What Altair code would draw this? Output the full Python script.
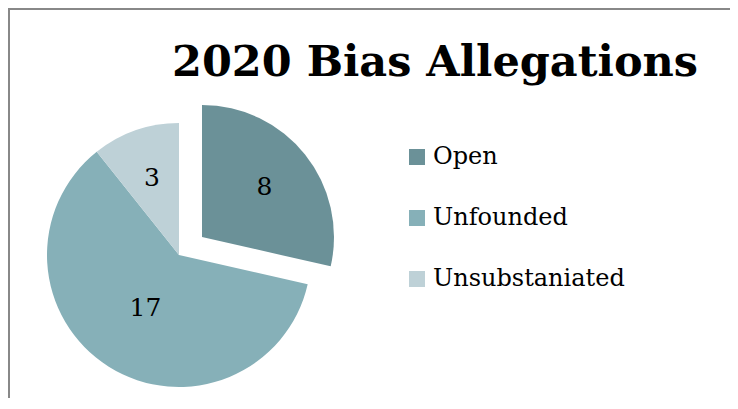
import altair as alt
import pandas as pd

categories = ["Open", "Unfounded", "Unsubstaniated"]
counts = [8, 17, 3]
colors = ["#6B9198", "#86B0B8", "#BED1D7"]

df = pd.DataFrame({"category": categories, "count": counts, "order": list(range(len(categories)))})
total = sum(counts)

FONT = "DejaVu Serif"
W, H = 722, 390
CX, CY = 171, 247          # pie centre (chart coords)
EX, EY = 194, 229          # centre of the pulled-out "Open" slice
R = 132

base = (
    alt.Chart(df)
    .transform_stack(stack="count", groupby=[], as_=["start", "end"], sort=[alt.SortField("order")])
    .transform_calculate(mid="(datum.start + datum.end) / 2")
)

color = alt.Color(
    "category:N",
    scale=alt.Scale(domain=categories, range=colors),
    legend=alt.Legend(
        title=None,
        orient="none",
        legendX=397,
        legendY=137,
        symbolType="square",
        symbolSize=256,
        symbolStrokeWidth=0,
        labelFont=FONT,
        labelFontSize=24,
        labelColor="#000000",
        labelOffset=4,
        labelLimit=0,
        rowPadding=37,
        padding=0,
    ),
)

tscale = alt.Scale(domain=[0, total], range=[0, 6.283185307179586], zero=True, nice=False)
theta = alt.Theta("start:Q", scale=tscale)
theta2 = alt.Theta2("end:Q")

open_arc = base.transform_filter(alt.datum.category == "Open").mark_arc(radius=R).encode(
    theta=theta, theta2=theta2, color=color, x=alt.value(EX), y=alt.value(EY)
)
rest_arc = base.transform_filter(alt.datum.category != "Open").mark_arc(radius=R).encode(
    theta=theta, theta2=theta2, color=color, x=alt.value(CX), y=alt.value(CY)
)

def label(filt, cx, cy, r):
    return base.transform_filter(filt).mark_text(
        font=FONT, fontSize=25, color="#000000", baseline="middle", align="center"
    ).encode(
        theta=alt.Theta("mid:Q", scale=tscale),
        radius=alt.value(r),
        text=alt.Text("count:Q"),
        x=alt.value(cx),
        y=alt.value(cy),
    )

lab_open = label(alt.datum.category == "Open", EX, EY, 80)
lab_unf = label(alt.datum.category == "Unfounded", CX, CY, 63)
lab_uns = label(alt.datum.category == "Unsubstaniated", CX, CY, 82)

border_top = alt.Chart(df).mark_rule(color="#888888", strokeWidth=2).encode(
    x=alt.value(0), x2=alt.value(W), y=alt.value(1)
)
border_left = alt.Chart(df).mark_rule(color="#888888", strokeWidth=2).encode(
    x=alt.value(1), y=alt.value(0), y2=alt.value(H)
)

chart = (
    alt.layer(border_top, border_left, open_arc, rest_arc, lab_open, lab_unf, lab_uns)
    .properties(
        width=W,
        height=H,
        padding=0,
        autosize=alt.AutoSizeParams(type="none"),
        title=alt.TitleParams(
            "2020 Bias Allegations",
            font=FONT,
            fontSize=43,
            fontWeight="bold",
            color="#000000",
            anchor="start",
            frame="group",
            orient="top",
            baseline="alphabetic",
            offset=0,
            dx=164,
            dy=112,
        ),
    )
    .configure_view(stroke=None)
)

chart.save("out.html", embed_options={"renderer": "svg", "actions": False})
